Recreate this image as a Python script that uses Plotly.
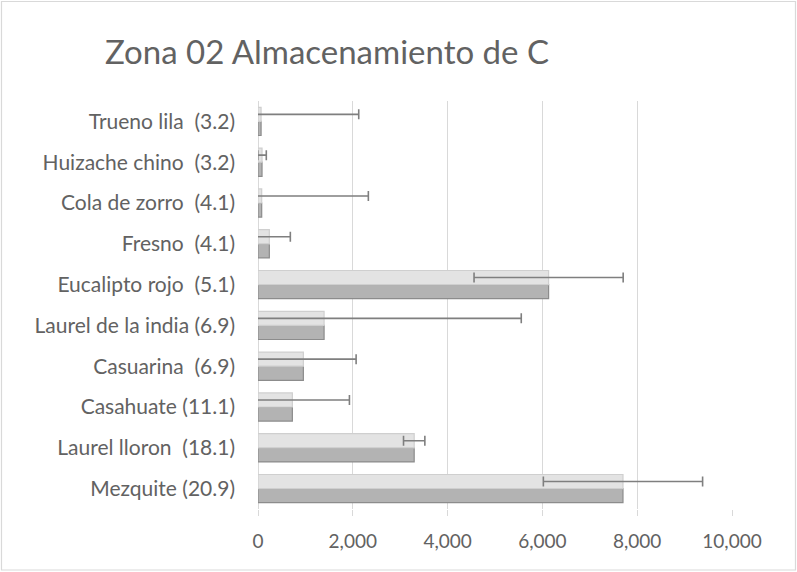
import plotly.graph_objects as go

# categories, bottom to top as drawn
species = [
    "Mezquite (20.9)",
    "Laurel lloron\u00a0 (18.1)",
    "Casahuate (11.1)",
    "Casuarina\u00a0 (6.9)",
    "Laurel de la india (6.9)",
    "Eucalipto rojo\u00a0 (5.1)",
    "Fresno\u00a0 (4.1)",
    "Cola de zorro\u00a0 (4.1)",
    "Huizache chino\u00a0 (3.2)",
    "Trueno lila\u00a0 (3.2)",
]
carbon = [7700, 3295, 725, 957, 1394, 6131, 239, 78, 85, 65]
carbon_err = [1680, 225, 1204, 1113, 4160, 1573, 443, 2250, 90, 2060]

TEXT = "#626262"
GRID = "#d9d9d9"

W, H = 797, 572
L, R, T, B = 258, 65, 101, 63

fig = go.Figure()
# lower (darker) half of each bar
fig.add_trace(go.Bar(
    y=species, x=carbon, orientation="h", name="base",
    marker=dict(color="#b3b3b3", line=dict(color="#8c8c8c", width=1.2)),
    hoverinfo="skip",
))
# upper (lighter) half, carries the error bars
fig.add_trace(go.Bar(
    y=species, x=carbon, orientation="h", name="C",
    marker=dict(color="#e3e3e3", line=dict(color="#cfcfcf", width=1.2)),
    error_x=dict(type="data", array=carbon_err, color="#7f7f7f",
                 thickness=1.6, width=5),
))

pw = W - L - R
ph = H - T - B
fig.add_shape(
    type="rect", xref="paper", yref="paper",
    x0=(1.5 - L) / pw, x1=(W - 1.5 - L) / pw,
    y0=-(B - 2) / ph, y1=(ph + T - 1.5) / ph,
    line=dict(color=GRID, width=1.2), fillcolor="rgba(0,0,0,0)", layer="below",
)

fig.update_layout(
    width=W, height=H,
    margin=dict(l=L, r=R, t=T, b=B),
    barmode="group", bargap=0.31, bargroupgap=0,
    plot_bgcolor="white", paper_bgcolor="white",
    showlegend=False,
    font=dict(family="Lato, Open Sans, sans-serif", color=TEXT, size=16),
    title=dict(
        text="Zona 02 Almacenamiento de C",
        font=dict(size=33, color=TEXT),
        xref="container", yref="container",
        x=327 / W, xanchor="center", y=1 - 52 / H, yanchor="middle",
    ),
    xaxis=dict(
        range=[0, 10000], dtick=2000, tickformat=",",
        showgrid=True, gridcolor=GRID, gridwidth=1.3,
        zeroline=True, zerolinecolor=GRID, zerolinewidth=1.3,
        showline=False,
        ticks="outside", ticklen=6, tickcolor=GRID, tickwidth=1.3,
        ticklabelstandoff=9,
        tickfont=dict(size=19, color=TEXT),
        fixedrange=True,
    ),
    yaxis=dict(
        type="category",
        showgrid=False, zeroline=False, showline=False, ticks="",
        ticklabelstandoff=22,
        tickfont=dict(size=21, color=TEXT),
        fixedrange=True,
    ),
)

fig.write_html("out.html", config={"displayModeBar": False},
               post_script="document.body.style.margin='0px';")
